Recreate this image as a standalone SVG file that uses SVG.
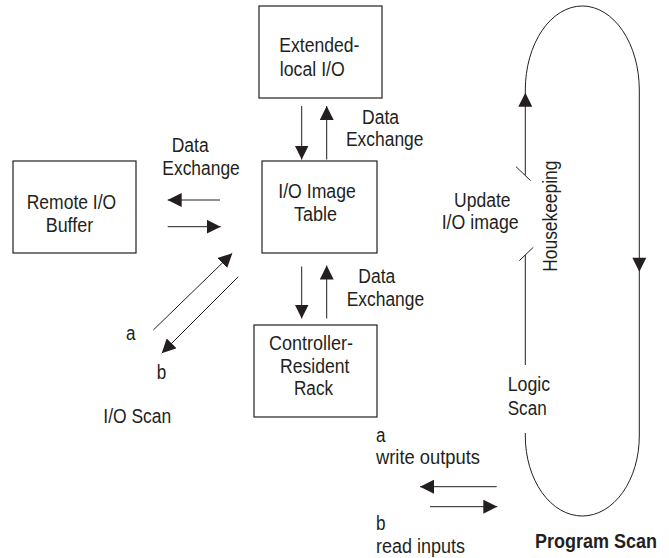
<svg xmlns="http://www.w3.org/2000/svg" width="669" height="558" viewBox="0 0 669 558">
<style>
.box{fill:#fff;stroke:#231f20;stroke-width:1.2}
.ln{fill:none;stroke:#231f20;stroke-width:1}
.ah{fill:#231f20;stroke:none}
text{font-family:"Liberation Sans",Arial,sans-serif;font-size:20px;fill:#231f20}
.b{font-weight:bold}
</style>
<defs>
<marker id="arr" markerUnits="userSpaceOnUse" markerWidth="14" markerHeight="14" viewBox="0 0 14 14" refX="14" refY="7" orient="auto">
<path d="M0,0 L14,7 L0,14 Z" class="ah"/>
</marker>
</defs>
<rect width="669" height="558" fill="#fff"/>

<g id="extended">
<rect class="box" x="259" y="6" width="123" height="92"/>
<text x="279.3" y="51.7" textLength="80" lengthAdjust="spacingAndGlyphs">Extended-</text>
<text x="279.8" y="76" textLength="65" lengthAdjust="spacingAndGlyphs">local I/O</text>
</g>

<g id="iotable">
<rect class="box" x="262" y="161" width="115" height="92"/>
<text x="278.3" y="198" textLength="77.5" lengthAdjust="spacingAndGlyphs">I/O Image</text>
<text x="294" y="221" textLength="43" lengthAdjust="spacingAndGlyphs">Table</text>
</g>

<g id="remote">
<rect class="box" x="13" y="161" width="123" height="92"/>
<text x="26.7" y="209" textLength="89.5" lengthAdjust="spacingAndGlyphs">Remote I/O</text>
<text x="45.7" y="231.7" textLength="47.5" lengthAdjust="spacingAndGlyphs">Buffer</text>
</g>

<g id="controller">
<rect class="box" x="254" y="325" width="123" height="92"/>
<text x="269" y="349.5" textLength="84" lengthAdjust="spacingAndGlyphs">Controller-</text>
<text x="280" y="372.5" textLength="69.4" lengthAdjust="spacingAndGlyphs">Resident</text>
<text x="294" y="394.5" textLength="39" lengthAdjust="spacingAndGlyphs">Rack</text>
</g>

<g id="connectors">
<line class="ln" x1="301.7" y1="106" x2="301.7" y2="159.5" marker-end="url(#arr)"/>
<line class="ln" x1="326.7" y1="159.5" x2="326.7" y2="106" marker-end="url(#arr)"/>
<line class="ln" x1="220" y1="200" x2="167.7" y2="200" marker-end="url(#arr)"/>
<line class="ln" x1="167.7" y1="226.7" x2="220.7" y2="226.7" marker-end="url(#arr)"/>
<line class="ln" x1="153.3" y1="330" x2="232.3" y2="253.3" marker-end="url(#arr)"/>
<line class="ln" x1="238.3" y1="276.7" x2="161.7" y2="353.3" marker-end="url(#arr)"/>
<line class="ln" x1="301.7" y1="266.5" x2="301.7" y2="318.5" marker-end="url(#arr)"/>
<line class="ln" x1="326.7" y1="318.5" x2="326.7" y2="265.5" marker-end="url(#arr)"/>
<line class="ln" x1="496.7" y1="486.7" x2="420" y2="486.7" marker-end="url(#arr)"/>
<line class="ln" x1="430" y1="506.7" x2="497.3" y2="506.7" marker-end="url(#arr)"/>
</g>

<g id="program-scan-loop">
<path class="ln" d="M525.3,175 V90 A57,84 0 0 1 639.3,90 V436 A57,80 0 0 1 525.3,436 V433"/>
<path class="ln" d="M525.3,365 V255"/>
<line class="ln" x1="516" y1="166.7" x2="530.7" y2="180.7"/>
<line class="ln" x1="519.3" y1="260.7" x2="533.3" y2="247.3"/>
<polygon class="ah" points="525.3,92.7 532.3,106.7 518.3,106.7"/>
<polygon class="ah" points="639.3,271.7 632.3,257.7 646.3,257.7"/>
</g>

<g id="labels">
<text x="362" y="124" textLength="37" lengthAdjust="spacingAndGlyphs">Data</text>
<text x="346" y="146" textLength="77.5" lengthAdjust="spacingAndGlyphs">Exchange</text>
<text x="171.7" y="151.5" textLength="37" lengthAdjust="spacingAndGlyphs">Data</text>
<text x="162.3" y="174.5" textLength="77.5" lengthAdjust="spacingAndGlyphs">Exchange</text>
<text x="358.3" y="282.7" textLength="37" lengthAdjust="spacingAndGlyphs">Data</text>
<text x="346.7" y="306.3" textLength="77.5" lengthAdjust="spacingAndGlyphs">Exchange</text>
<text x="126" y="340" textLength="9.5" lengthAdjust="spacingAndGlyphs">a</text>
<text x="156.7" y="379" textLength="9.5" lengthAdjust="spacingAndGlyphs">b</text>
<text x="103.3" y="423" textLength="68" lengthAdjust="spacingAndGlyphs">I/O Scan</text>
<text x="454" y="206.7" textLength="56.5" lengthAdjust="spacingAndGlyphs">Update</text>
<text x="441.7" y="229.3" textLength="77" lengthAdjust="spacingAndGlyphs">I/O image</text>
<text transform="translate(556.7,271.7) rotate(-90)" x="0" y="0" textLength="111" lengthAdjust="spacingAndGlyphs">Housekeeping</text>
<text x="507.7" y="391" textLength="42.5" lengthAdjust="spacingAndGlyphs">Logic</text>
<text x="507.7" y="415" textLength="39" lengthAdjust="spacingAndGlyphs">Scan</text>
<text x="376" y="442" textLength="9.5" lengthAdjust="spacingAndGlyphs">a</text>
<text x="376" y="463.5" textLength="104" lengthAdjust="spacingAndGlyphs">write outputs</text>
<text x="376" y="530" textLength="9.5" lengthAdjust="spacingAndGlyphs">b</text>
<text x="376" y="553" textLength="89" lengthAdjust="spacingAndGlyphs">read inputs</text>
<text class="b" x="535" y="548.3" textLength="122" lengthAdjust="spacingAndGlyphs">Program Scan</text>
</g>
</svg>
